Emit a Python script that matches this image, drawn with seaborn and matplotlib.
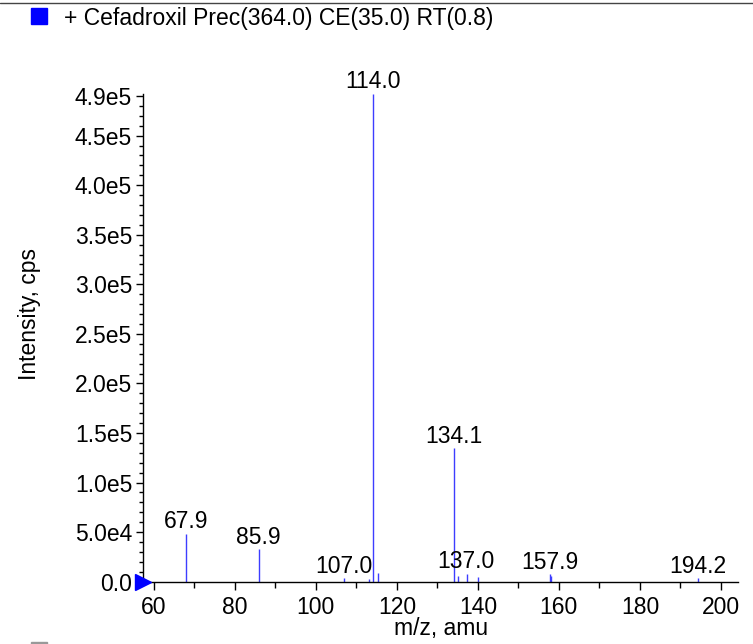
import matplotlib
matplotlib.use("Agg")
import matplotlib.pyplot as plt
from matplotlib.lines import Line2D
from matplotlib.patches import Rectangle
from matplotlib.ticker import MultipleLocator, FixedLocator, FixedFormatter
import seaborn as sns

# spectrum peaks (m/z, intensity in cps)
mz = [67.9, 85.9, 107.0, 113.1, 114.0, 115.4, 134.1, 135.2, 137.2, 140.1, 157.8, 158.1, 194.3]
intensity = [4.85e4, 3.27e4, 3.4e3, 3.0e3, 4.92e5, 9.0e3, 1.345e5, 5.7e3, 7.8e3, 5.0e3, 7.7e3, 6.0e3, 3.4e3]

# annotated peaks
label_mz = [67.9, 85.9, 107.0, 114.0, 134.1, 137.0, 157.9, 194.2]
label_height = [4.85e4, 3.27e4, 3.4e3, 4.92e5, 1.345e5, 7.8e3, 7.7e3, 3.4e3]

ytick_vals = [0, 5e4, 1e5, 1.5e5, 2e5, 2.5e5, 3e5, 3.5e5, 4e5, 4.5e5, 4.9e5]
ytick_text = ["0.0", "5.0e4", "1.0e5", "1.5e5", "2.0e5", "2.5e5", "3.0e5",
              "3.5e5", "4.0e5", "4.5e5", "4.9e5"]

title = "+ Cefadroxil Prec(364.0) CE(35.0) RT(0.8)"

sns.set_style("ticks")
plt.rcParams["font.family"] = ["Liberation Sans", "DejaVu Sans"]
fs = 16.5

W, H = 753, 644
fig = plt.figure(figsize=(W / 100, H / 100), dpi=100)
ax = fig.add_axes([143.3 / W, 1 - 581.7 / H, (738.3 - 143.3) / W, (581.7 - 94) / H])

ax.vlines(mz, 0, intensity, color="#3d3dff", linewidth=1.0)
for x, h in zip(label_mz, label_height):
    ax.annotate(f"{x:.1f}", (x, h), xytext=(0, 4), textcoords="offset points",
                ha="center", va="baseline", fontsize=fs, color="black")

ax.set_xlim(57.4, 204.3)
ax.set_ylim(0, 4.92e5)
ax.xaxis.set_major_locator(MultipleLocator(20))
ax.xaxis.set_minor_locator(MultipleLocator(10))
ax.yaxis.set_major_locator(FixedLocator(ytick_vals))
ax.yaxis.set_major_formatter(FixedFormatter(ytick_text))
ax.yaxis.set_minor_locator(MultipleLocator(1e4))

ax.tick_params(axis="both", which="major", labelsize=fs, direction="out", color="black",
               width=1, labelcolor="black")
ax.tick_params(axis="x", which="major", length=6, pad=4)
ax.tick_params(axis="x", which="minor", length=4, width=1, color="black")
ax.tick_params(axis="y", which="major", length=5, pad=3)
ax.tick_params(axis="y", which="minor", length=3, width=1, color="black")

sns.despine(ax=ax)
for s in ["left", "bottom"]:
    ax.spines[s].set_color("black")
    ax.spines[s].set_linewidth(1)

ax.set_xlabel("m/z, amu", fontsize=fs, color="black")
ax.set_ylabel("Intensity, cps", fontsize=fs, color="black")
ax.xaxis.set_label_coords(0.5, -0.073)
ax.yaxis.set_label_coords(-0.172, 0.549)

# marker at the baseline on the left edge
ax.plot([0], [0], marker=">", markersize=12, color="#0000ff", clip_on=False,
        transform=ax.get_yaxis_transform(), zorder=5)

# header with legend swatch and frame line
fig.add_artist(Line2D([0, 1], [1 - 3 / H, 1 - 3 / H], color="#444444", linewidth=1))
fig.add_artist(Rectangle((31 / W, 1 - 24 / H), 16 / W, 16 / H, color="#0000ff"))
fig.text(64 / W, 1 - 18 / H, title, fontsize=fs, va="center", ha="left", color="black")
fig.add_artist(Rectangle((31 / W, 0), 16 / W, 2 / H, color="#999999"))

fig.savefig("out.png", dpi=100)
